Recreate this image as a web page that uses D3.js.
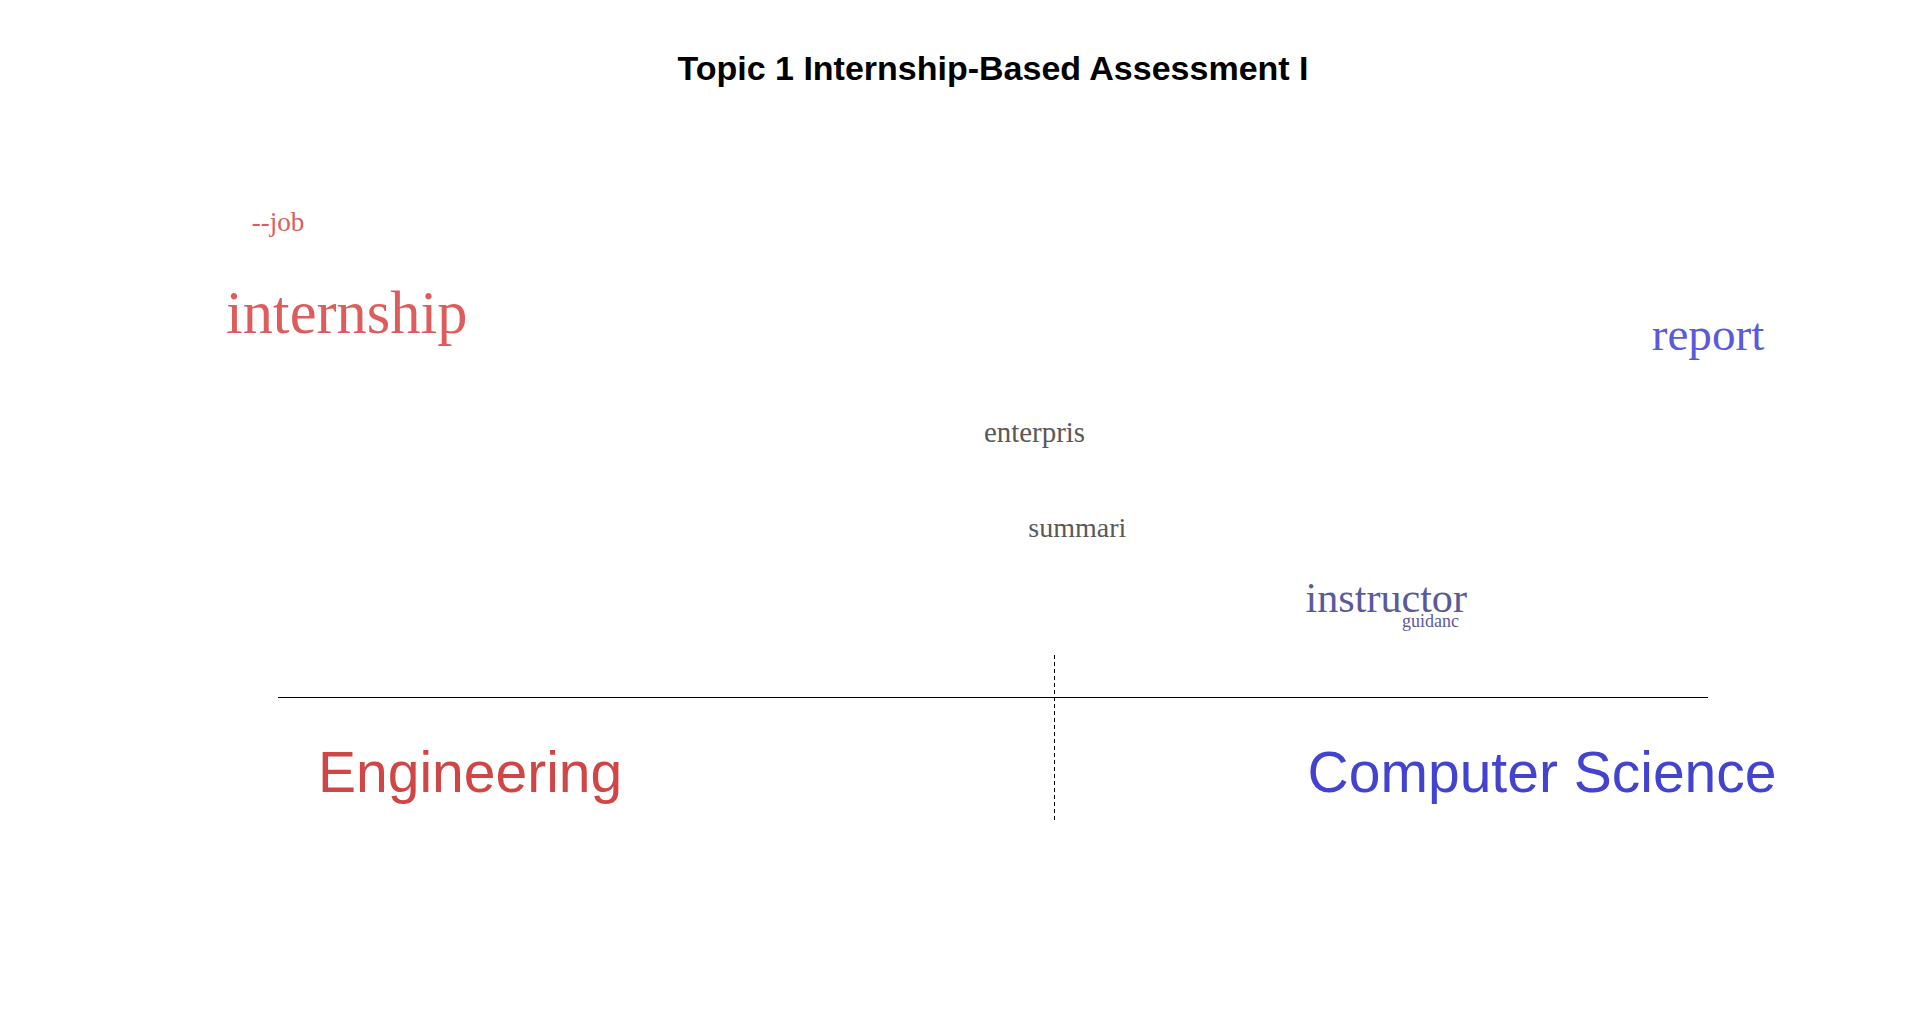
<!DOCTYPE html>
<html>
<head>
<meta charset="utf-8">
<script src="https://cdn.jsdelivr.net/npm/d3@7"></script>
<style>
  html, body { margin: 0; padding: 0; background: #ffffff; }
  svg { display: block; }
</style>
</head>
<body>
<svg id="chart" width="1920" height="1018"></svg>
<script>
// ---- data ----
const chartTitle = "Topic 1 Internship-Based Assessment I";
const categories = ["Engineering", "Computer Science"];
const categoryColors = ["#d04545", "#4343cf"];
const words = ["--job", "internship", "report", "enterpris", "summari", "instructor", "guidanc"];
const xScore = [0.0, 0.048, 1.0, 0.529, 0.559, 0.775, 0.806];     // position between Engineering (0) and Computer Science (1)
const yScore = [1.0, 0.806, 0.762, 0.557, 0.356, 0.208, 0.160];    // vertical position
const weight = [3.0, 10.3, 7.4, 3.4, 3.2, 6.3, 1.0];              // word weight (size)
const lean = [-1, -1, 1, 0, 0, 0.5, 0.5];                         // colour lean: -1 Engineering, 1 Computer Science
const dividerScore = 0.543;

// ---- layout ----
const svg = d3.select("#chart");
const x = d3.scaleLinear().domain([0, 1]).range([278, 1708]);
const y = d3.scaleLinear().domain([0, 1]).range([697, 222]);
const size = d3.scaleLinear().domain([1, 10]).range([18, 59]);
const color = d3.scaleLinear().domain([-1, 0, 1]).range(["#dd5c5c", "#595959", "#5a5adc"]);

// title
svg.append("text")
  .attr("x", 993).attr("y", 80)
  .attr("text-anchor", "middle")
  .attr("font-family", "'Liberation Sans', Arial, sans-serif")
  .attr("font-weight", "bold")
  .attr("font-size", 34)
  .attr("fill", "#000")
  .text(chartTitle);

// baseline axis
svg.append("line")
  .attr("x1", x(0)).attr("x2", x(1))
  .attr("y1", y(0) + 0.5).attr("y2", y(0) + 0.5)
  .attr("stroke", "#000").attr("stroke-width", 1);

// divider
svg.append("line")
  .attr("x1", Math.round(x(dividerScore)) + 0.5).attr("x2", Math.round(x(dividerScore)) + 0.5)
  .attr("y1", 655).attr("y2", 821)
  .attr("stroke", "#000").attr("stroke-width", 1)
  .attr("stroke-dasharray", "4,3");

// words
const rows = words.map((w, i) => ({ w, x: xScore[i], y: yScore[i], s: weight[i], c: lean[i] }));
svg.append("g").selectAll("text").data(rows).join("text")
  .attr("x", d => x(d.x))
  .attr("y", d => y(d.y))
  .attr("dy", "0.32em")
  .attr("text-anchor", "middle")
  .attr("font-family", "'Liberation Serif', 'Times New Roman', serif")
  .attr("font-size", d => size(d.s))
  .attr("fill", d => color(d.c))
  .text(d => d.w);

// category labels
const catX = [0.028, 0.720];
svg.append("g").selectAll("text").data(categories).join("text")
  .attr("x", (d, i) => x(catX[i]))
  .attr("y", 792)
  .attr("text-anchor", "start")
  .attr("font-family", "'Liberation Sans', Arial, sans-serif")
  .attr("font-size", 57)
  .attr("fill", (d, i) => categoryColors[i])
  .text(d => d);
</script>
</body>
</html>
